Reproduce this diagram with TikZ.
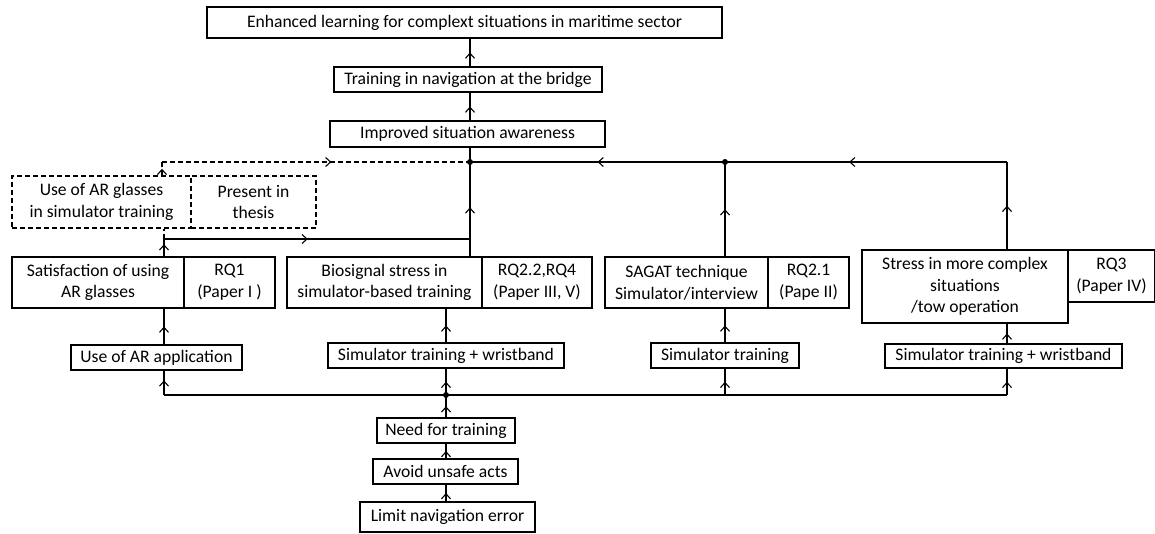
\documentclass[tikz,border=0pt]{standalone}
\usepackage{fontspec}
\setmainfont{Carlito}
\usetikzlibrary{arrows.meta,decorations.markings}
\begin{document}
\begin{tikzpicture}[x=1pt,y=-1pt,
  every node/.style={font=\fontsize{17.6}{21.6}\selectfont},
  box/.style={draw, line width=1.1pt, inner sep=0pt, align=center},
  dbox/.style={box, dash pattern=on 5pt off 3pt},
  link/.style={line width=1.1pt},
  dlink/.style={link, dash pattern=on 5pt off 3pt},
  midarr/.style={postaction={decorate}, decoration={markings,
    mark=at position #1 with {\arrow{Straight Barb[length=5pt,width=9pt,line width=1.1pt]}}}},
  midarr/.default=0.5,
  dot/.style={circle, fill, inner sep=0pt, minimum size=6pt}]
\useasboundingbox (0,0) rectangle (1155,533);

% top chain
\node[box, minimum width=515pt, minimum height=31pt] (goal) at (464.5,22.5)
  {Enhanced learning for complext situations in maritime sector};
\node[box, minimum width=268pt, minimum height=25pt] (train) at (468,79.5)
  {Training in navigation at the bridge};
\node[box, minimum width=275pt, minimum height=26pt] (sa) at (467.5,134)
  {Improved situation awareness};

% dashed boxes
\node[dbox, minimum width=179pt, minimum height=52pt] (arg) at (101.5,202)
  {Use of AR glasses\\in simulator training};
\node[dbox, minimum width=125pt, minimum height=52pt] (pres) at (253.5,202)
  {Present in\\thesis};

% result boxes
\node[box, minimum width=172pt, minimum height=51pt] (sat) at (98,282.5)
  {Satisfaction of using\\AR glasses};
\node[box, minimum width=91pt, minimum height=51pt] (rq1) at (229.5,282.5)
  {RQ1\\(Paper I )};
\node[box, minimum width=195pt, minimum height=51pt] (bio) at (384.5,282.5)
  {Biosignal stress in\\simulator-based training};
\node[box, minimum width=110pt, minimum height=51pt] (rq22) at (537,282.5)
  {RQ2.2,RQ4\\(Paper III, V)};
\node[box, minimum width=163pt, minimum height=51pt] (sagat) at (686.5,282.5)
  {SAGAT technique\\Simulator/interview};
\node[box, minimum width=81pt, minimum height=51pt] (rq21) at (808.5,282.5)
  {RQ2.1\\(Pape II)};
\node[box, minimum width=206pt, minimum height=73pt] (stress) at (965,286.5)
  {Stress in more complex\\situations\\/tow operation};
\node[box, minimum width=87pt, minimum height=52pt] (rq3) at (1111.5,276)
  {RQ3\\(Paper IV)};

% method boxes
\node[box, minimum width=171pt, minimum height=25pt] (usear) at (156.5,357.5)
  {Use of AR application};
\node[box, minimum width=236pt, minimum height=25pt] (simw1) at (446,355.5)
  {Simulator training + wristband};
\node[box, minimum width=148pt, minimum height=25pt] (simt) at (725,355.5)
  {Simulator training};
\node[box, minimum width=237pt, minimum height=24pt] (simw2) at (1003.5,356)
  {Simulator training + wristband};

% root chain
\node[box, minimum width=138pt, minimum height=25pt] (need) at (446,430.5)
  {Need for training};
\node[box, minimum width=145pt, minimum height=25pt] (avoid) at (445.5,471.5)
  {Avoid unsafe acts};
\node[box, minimum width=175pt, minimum height=30pt] (limit) at (447.5,517)
  {Limit navigation error};

% junctions and corners
\node[dot] (J1) at (470,162) {};
\node[dot] (J2) at (725,162) {};
\coordinate (C3) at (1007,162);
\coordinate (D1) at (162,162);
\coordinate (S) at (164,239);
\coordinate (M) at (470,239);
\node[dot] (B) at (446,395) {};
\coordinate (BL) at (164,395);
\coordinate (BM) at (725,395);
\coordinate (BR) at (1007,395);

% upper chain
\draw[link, midarr] (sa.north -| J1) -- (train.south -| J1);
\draw[link, midarr] (train.north -| J1) -- (goal.south -| J1);
\draw[link] (J1.center) -- (sa.south -| J1);

% merging line
\draw[link, midarr=0.52] (bio.north -| J1) -- (J1.center);
\draw[link, midarr=0.7] (sat.north -| S) -- (S);
\draw[link, midarr=0.47] (S) -- (M);
\draw[dlink] (S) -- (arg.south -| S);
\draw[dlink, midarr=0.5] (arg.north -| D1) -- (D1);
\draw[dlink, midarr=0.55] (D1) -- (J1.center);
\draw[link, midarr=0.5] (J2.center) -- (J1.center);
\draw[link, midarr=0.56] (C3) -- (J2.center);
\draw[link, midarr=0.5] (sagat.north -| J2) -- (J2.center);
\draw[link, midarr=0.5] (stress.north -| C3) -- (C3);

% methods to results
\draw[link, midarr] (usear.north -| S) -- (sat.south -| S);
\draw[link, midarr] (simw1.north -| B) -- (bio.south -| B);
\draw[link, midarr] (simt.north -| BM) -- (sagat.south -| BM);
\draw[link, midarr] (simw2.north -| BR) -- (stress.south -| BR);

% root chain and distribution line
\draw[link, midarr] (limit.north -| B) -- (avoid.south -| B);
\draw[link, midarr] (avoid.north -| B) -- (need.south -| B);
\draw[link, midarr] (need.north -| B) -- (B.center);
\draw[link, midarr] (B.center) -- (simw1.south -| B);
\draw[link] (B.center) -- (BL);
\draw[link, midarr=0.6] (BL) -- (usear.south -| BL);
\draw[link] (B.center) -- (BM) -- (BR);
\draw[link, midarr] (BM) -- (simt.south -| BM);
\draw[link, midarr] (BR) -- (simw2.south -| BR);
\end{tikzpicture}
\end{document}
